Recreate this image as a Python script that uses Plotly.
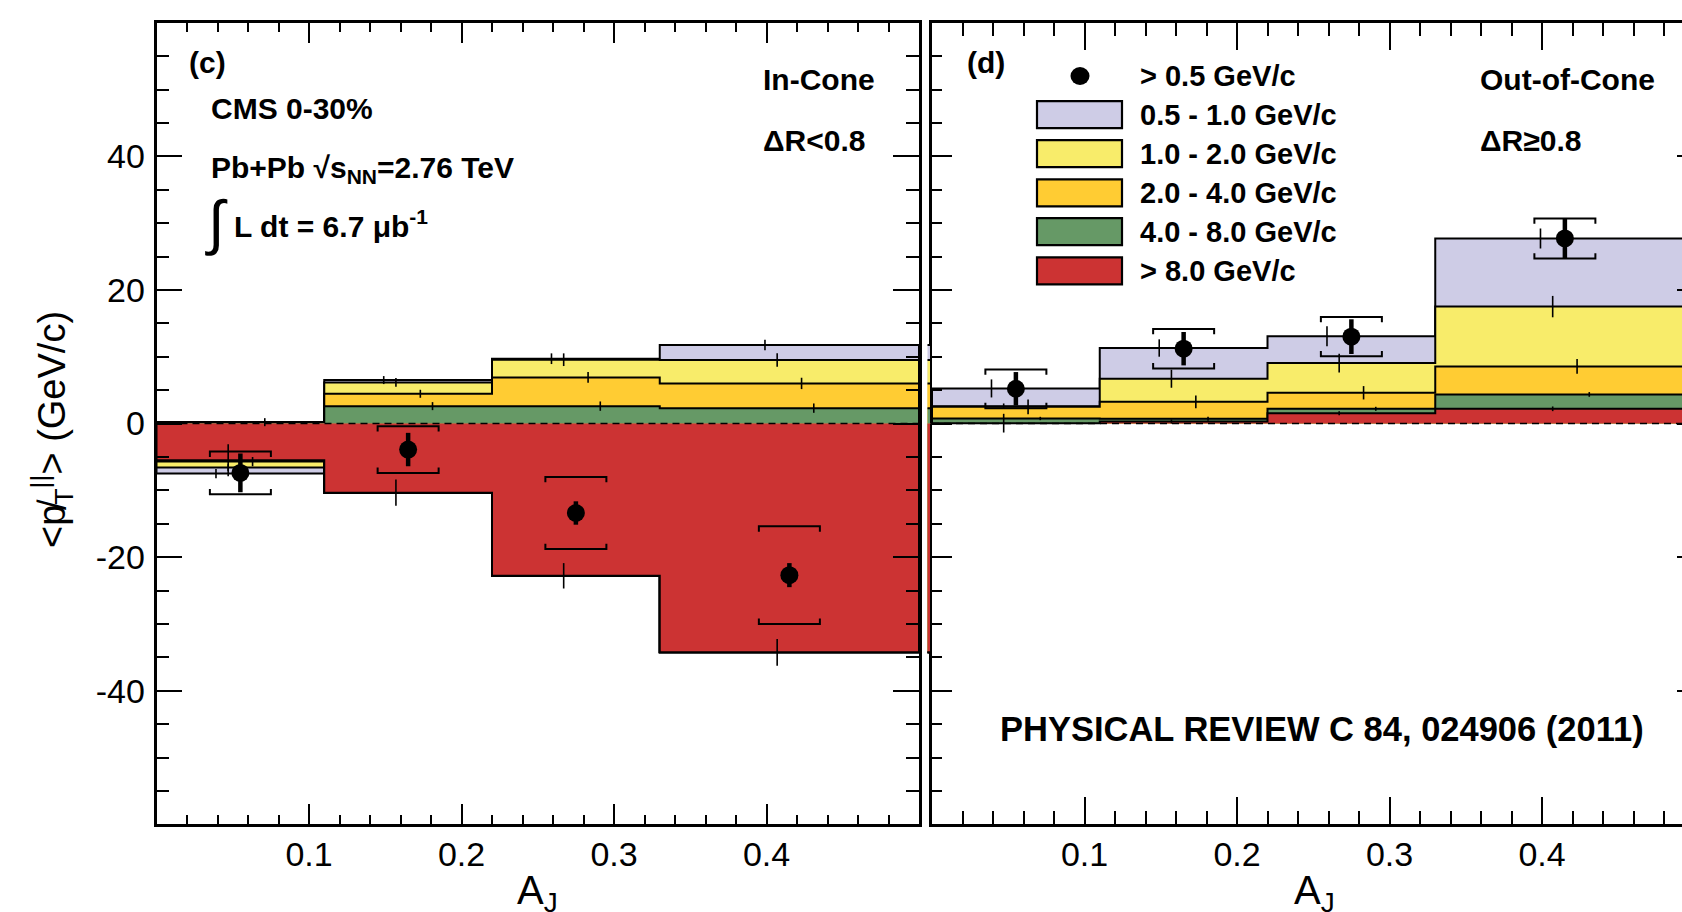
import plotly.graph_objects as go

# ---------------- data ----------------
# dijet asymmetry binning
aj_edges = [0.0, 0.11, 0.22, 0.33, 0.50]
aj_centers = [0.055, 0.165, 0.275, 0.415]

# track-pT classes, innermost stacked first
pt_labels = ["> 8.0 GeV/c", "4.0 - 8.0 GeV/c", "2.0 - 4.0 GeV/c",
             "1.0 - 2.0 GeV/c", "0.5 - 1.0 GeV/c"]
pt_colors = ["#CC3333", "#669966", "#FFCC33", "#F8EC6A", "#CECCE6"]
total_label = "> 0.5 GeV/c"

# In-cone (dR<0.8): <missing pT parallel> per class and A_J bin (GeV/c)
in_gt8 = [-5.5, -10.35, -22.8, -34.25]
in_4_8 = [0.2, 2.6, 2.6, 2.3]
in_2_4 = [-0.2, 1.85, 4.3, 3.7]
in_1_2 = [-0.9, 1.7, 2.65, 3.5]
in_05_1 = [-0.9, 0.35, 0.15, 2.25]
in_gt8_err = [2.4, 1.95, 1.9, 2.0]
in_4_8_err = [0.6, 0.6, 0.7, 0.7]
in_2_4_err = [0.7, 0.6, 0.8, 0.85]
in_1_2_err = [0.5, 0.65, 0.95, 1.0]
in_05_1_err = [0.7, 0.6, 0.8, 0.8]

# Out-of-cone (dR>=0.8)
out_gt8 = [0.05, 0.3, 1.55, 2.2]
out_4_8 = [0.7, 0.4, 0.65, 2.15]
out_2_4 = [1.75, 2.55, 2.4, 4.2]
out_1_2 = [0.1, 3.45, 4.45, 8.95]
out_05_1 = [2.65, 4.6, 4.0, 10.2]
out_gt8_err = [1.4, 0.3, 0.3, 0.35]
out_4_8_err = [0.25, 0.3, 0.3, 0.35]
out_2_4_err = [1.1, 0.95, 1.0, 1.1]
out_1_2_err = [0.4, 1.35, 1.4, 1.6]
out_05_1_err = [1.35, 1.3, 1.5, 1.5]

# all tracks above 0.5 GeV/c, with stat. and syst. uncertainties
in_total = [-7.4, -3.9, -13.4, -22.7]
in_total_stat = [2.9, 2.5, 1.75, 1.8]
in_total_syst = [3.2, 3.5, 5.4, 7.3]
out_total = [5.2, 11.2, 13.0, 27.7]
out_total_stat = [2.5, 2.5, 2.6, 3.0]
out_total_syst = [2.9, 2.95, 2.95, 3.0]

y_ticks = [-40, -20, 0, 20, 40]
y_ticktext = ["-40", "-20", "0", "20", "40"]
x_ticks = [0.1, 0.2, 0.3, 0.4]
x_ticktext = ["0.1", "0.2", "0.3", "0.4"]

in_components = [in_gt8, in_4_8, in_2_4, in_1_2, in_05_1]
in_errors = [in_gt8_err, in_4_8_err, in_2_4_err, in_1_2_err, in_05_1_err]
out_components = [out_gt8, out_4_8, out_2_4, out_1_2, out_05_1]
out_errors = [out_gt8_err, out_4_8_err, out_2_4_err, out_1_2_err, out_05_1_err]

# ---------------- layout geometry (pixels) ----------------
W, H = 1682, 912
LX0, LX1 = 156.5, 919.0
RX0 = 932.0
YT, YB = 22.7, 824.3
SX0, SX1 = 927.5, 931.0
FONT = "Liberation Sans, Arial, Helvetica, sans-serif"
# horizontal shift of the per-class error ticks inside a bin
tick_shift = [-0.008, 0.016, 0.008, -0.008, -0.016]


def px(x):
    return x / W


def py(y):
    return 1 - y / H


right_end = 0.5 * (W - RX0) / (LX1 - LX0)


def stack(components):
    """Positive parts pile up from zero, negative parts pile down."""
    nb = len(components[0])
    pos, neg = [0.0] * nb, [0.0] * nb
    tops, bots, outer = [], [], []
    for comp in components:
        pos = [p + max(v, 0.0) for p, v in zip(pos, comp)]
        neg = [n + min(v, 0.0) for n, v in zip(neg, comp)]
        tops.append(pos)
        bots.append(neg)
        outer.append([p if v >= 0 else n for p, n, v in zip(pos, neg, comp)])
    return tops, bots, outer


def step_path(levels):
    xs, ys = [aj_edges[0]], [0.0]
    for i, lv in enumerate(levels):
        xs += [aj_edges[i], aj_edges[i + 1]]
        ys += [lv, lv]
    xs.append(aj_edges[-1])
    ys.append(0.0)
    return xs, ys


fig = go.Figure()


def add_stack(components, xa, ya):
    tops, bots, _ = stack(components)
    for k in reversed(range(len(components))):
        for levels in (tops[k], bots[k]):
            if all(abs(v) < 1e-9 for v in levels):
                continue
            xs, ys = step_path(levels)
            fig.add_trace(go.Scatter(
                x=xs, y=ys, mode="lines", fill="toself",
                fillcolor=pt_colors[k], line=dict(color="black", width=2),
                xaxis=xa, yaxis=ya, hoverinfo="skip", showlegend=False))


def add_zero_line(xa, ya, x1):
    fig.add_trace(go.Scatter(
        x=[0, x1], y=[0, 0], mode="lines",
        line=dict(color="black", width=1.6, dash="7px,5px"),
        xaxis=xa, yaxis=ya, hoverinfo="skip", showlegend=False))


def add_class_errors(components, errors, xa, ya):
    _, _, outer = stack(components)
    for k in range(len(components)):
        fig.add_trace(go.Scatter(
            x=[c + tick_shift[k] for c in aj_centers], y=outer[k],
            mode="markers", marker=dict(size=1, color="rgba(0,0,0,0)"),
            error_y=dict(type="data", array=errors[k], thickness=1.6,
                         width=0, color="black"),
            xaxis=xa, yaxis=ya, hoverinfo="skip", showlegend=False))


def add_totals(vals, stat, syst, xa, ya):
    hw, tip = 0.02, 0.8
    bx, by = [], []
    for c, v, s in zip(aj_centers, vals, syst):
        top, bot = v + s, v - s
        bx += [c - hw, c - hw, c + hw, c + hw, None,
               c - hw, c - hw, c + hw, c + hw, None]
        by += [top - tip, top, top, top - tip, None,
               bot + tip, bot, bot, bot + tip, None]
    fig.add_trace(go.Scatter(
        x=bx, y=by, mode="lines", line=dict(color="black", width=2),
        xaxis=xa, yaxis=ya, hoverinfo="skip", showlegend=False))
    fig.add_trace(go.Scatter(
        x=aj_centers, y=vals, mode="markers",
        marker=dict(size=18, color="black", symbol="circle"),
        error_y=dict(type="data", array=stat, thickness=4.5, width=0,
                     color="black"),
        xaxis=xa, yaxis=ya, hoverinfo="skip", showlegend=False))


# left panel: in-cone
add_stack(in_components, "x", "y")
add_zero_line("x", "y", 0.5)
add_class_errors(in_components, in_errors, "x", "y")
add_totals(in_total, in_total_stat, in_total_syst, "x", "y")

# right panel: out-of-cone
add_stack(out_components, "x2", "y2")
add_zero_line("x2", "y2", right_end)
add_class_errors(out_components, out_errors, "x2", "y2")
add_totals(out_total, out_total_stat, out_total_syst, "x2", "y2")

# in-cone histogram running past its frame into the panel gap
add_stack(in_components, "x3", "y3")

# keeps the edge tick axis alive
fig.add_trace(go.Scatter(x=[None], y=[None], xaxis="x2", yaxis="y4",
                         showlegend=False, hoverinfo="skip"))

x_minor = [round(0.02 * i, 2) for i in range(1, 25) if i % 5 != 0]
y_minor = [5 * i for i in range(-11, 12) if i % 4 != 0]
ydom = [py(YB), py(YT)]
tickfont = dict(family=FONT, size=34, color="black")


def xaxis_cfg(dom, rng, anchor, major, minor, labels=True):
    return dict(domain=dom, range=rng, anchor=anchor, showline=True,
                linecolor="black", linewidth=2.5, mirror="ticks",
                ticks="inside", ticklen=major, tickwidth=2.2,
                tickcolor="black", tickvals=x_ticks, ticktext=x_ticktext,
                showticklabels=labels, tickfont=tickfont,
                ticklabelstandoff=-2,
                minor=dict(tickvals=x_minor, ticks="inside", ticklen=minor,
                           tickwidth=1.8, tickcolor="black", showgrid=False),
                showgrid=False, zeroline=False, fixedrange=True)


def yaxis_cfg(anchor, major, minor, labels, mirror):
    return dict(domain=ydom, range=[-60, 60], anchor=anchor, showline=True,
                linecolor="black", linewidth=2.5, mirror=mirror,
                ticks="inside", ticklen=major, tickwidth=2.2,
                tickcolor="black", tickvals=y_ticks, ticktext=y_ticktext,
                showticklabels=labels, tickfont=tickfont,
                ticklabelstandoff=2,
                minor=dict(tickvals=y_minor, ticks="inside", ticklen=minor,
                           tickwidth=1.8, tickcolor="black", showgrid=False),
                showgrid=False, zeroline=False, fixedrange=True)


annotations = []


def label(text, x, y, size=30, anchor="left", bold=True, angle=0):
    annotations.append(dict(
        text=f"<b>{text}</b>" if bold else text,
        x=px(x), y=py(y), xref="paper", yref="paper",
        xanchor=anchor, yanchor="middle", showarrow=False, textangle=angle,
        font=dict(family=FONT, size=size, color="black")))


label("(c)", 187, 62)
label("CMS 0-30%", 209, 108)
label("Pb+Pb √s<sub>NN</sub>=2.76 TeV", 209, 170)
label("∫", 203, 222, size=60, bold=False)
label("L dt = 6.7 μb<sup>-1</sup>", 232, 224)
label("In-Cone", 761, 79)
label("ΔR&lt;0.8", 761, 140)
label("(d)", 965, 62)
label("Out-of-Cone", 1478, 79)
label("ΔR≥0.8", 1478, 140)
label("PHYSICAL REVIEW C 84, 024906 (2011)", 998, 729, size=34.5)
label("A<sub>J</sub>", (LX0 + LX1) / 2, 893, size=40, anchor="center", bold=False)
label("A<sub>J</sub>", (RX0 + 1697) / 2, 893, size=40, anchor="center", bold=False)
label("&lt;p̸<sub>T</sub><sup>||</sup>&gt; (GeV/c)", 52, 430, size=38,
      anchor="center", bold=False, angle=-90)

# legend
shapes = []
leg_rows = [76, 114.7, 153.7, 192.8, 231.7, 270.8]
shapes.append(dict(type="circle", xref="paper", yref="paper",
                   x0=px(1070.5), x1=px(1089.5), y0=py(85), y1=py(67),
                   fillcolor="black", line=dict(color="black", width=0)))
label(total_label.replace(">", "&gt;"), 1138, leg_rows[0], size=29)
for row, k in enumerate(reversed(range(len(pt_labels)))):
    yc = leg_rows[row + 1]
    shapes.append(dict(type="rect", xref="paper", yref="paper",
                       x0=px(1037), x1=px(1122), y0=py(yc + 13.5),
                       y1=py(yc - 13.5), fillcolor=pt_colors[k],
                       line=dict(color="black", width=2.2)))
    label(pt_labels[k].replace(">", "&gt;"), 1138, yc, size=29)

fig.update_layout(
    width=W, height=H, autosize=False,
    margin=dict(l=0, r=0, t=0, b=0, pad=0),
    paper_bgcolor="white", plot_bgcolor="rgba(0,0,0,0)",
    showlegend=False,
    xaxis=xaxis_cfg([px(LX0), px(LX1)], [0, 0.5], "y", 21, 10),
    yaxis=yaxis_cfg("x", 26, 13, True, "ticks"),
    xaxis2=xaxis_cfg([px(RX0), 1.0], [0, right_end], "y2", 28, 14),
    yaxis2=yaxis_cfg("x2", 20, 10, False, False),
    xaxis3=dict(domain=[px(SX0), px(SX1)], range=[0.49, 0.5], anchor="y3",
                visible=False, fixedrange=True),
    yaxis3=dict(domain=ydom, range=[-60, 60], anchor="x3", visible=False,
                fixedrange=True),
    yaxis4=dict(overlaying="y2", anchor="free", position=1.0, side="right",
                range=[-60, 60], showline=False, showgrid=False,
                zeroline=False, ticks="inside", ticklen=5, tickwidth=2.2,
                tickcolor="black", tickvals=y_ticks, showticklabels=False,
                fixedrange=True),
    annotations=annotations,
    shapes=shapes,
)

fig.write_html("out.html")
